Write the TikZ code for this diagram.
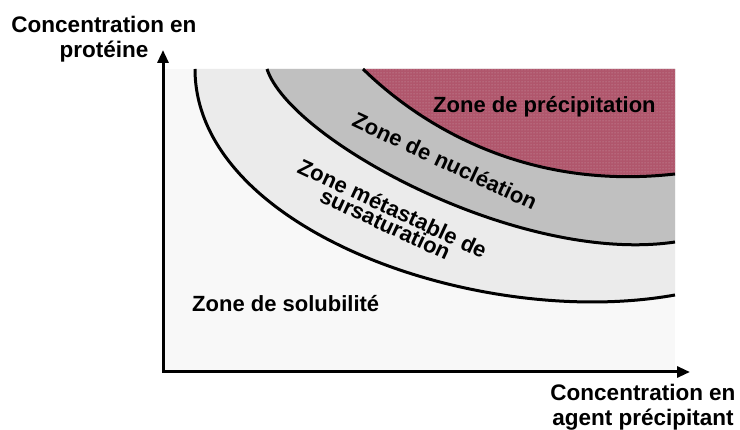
\documentclass[tikz,border=0pt]{standalone}
\usepackage{fontspec}
\setmainfont{Liberation Sans}
\usetikzlibrary{arrows.meta, patterns}

\definecolor{plotbg}{HTML}{F8F8F8}
\definecolor{metagray}{HTML}{EBEBEB}
\definecolor{nuclgray}{HTML}{C0C0C0}
\definecolor{precred}{HTML}{B0566C}
\definecolor{precdots}{HTML}{CDA3AD}

\begin{document}
\begin{tikzpicture}[
            x=1pt, y=-1pt,
            zonelabel/.style={
                    font=\bfseries\fontsize{22}{17}\selectfont,
                    align=center,
                    inner sep=0pt
                },
            axislabel/.style={
                    font=\bfseries\fontsize{22.5}{25}\selectfont,
                    align=center,
                    inner sep=0pt
                },
            boundary/.style={
                    draw=black,
                    line width=3pt
                },
            axis/.style={
                    draw=black,
                    line width=3pt,
                    {Triangle[length=13pt,width=11pt]}-{Triangle[length=13pt,width=11pt]}
                }
        ]
        \useasboundingbox (0,0) rectangle (740,430);

        % Plot area
        \fill [plotbg] (164,69) rectangle (675,372);

        % Zones
        \fill [metagray] (195,69) .. controls (195,230) and (480,330) .. (675,295) -- (675,69) -- cycle;
        \fill [nuclgray] (267,69) .. controls (290,140) and (520,265) .. (675,242) -- (675,69) -- cycle;
        \fill [precred] (363,69) .. controls (410,115) and (515,192) .. (675,174) -- (675,69) -- cycle;
        \fill [pattern=dots, pattern color=precdots] (363,69) .. controls (410,115) and (515,192) .. (675,174) -- (675,69) -- cycle;

        % Boundaries
        \draw [boundary] (195,69) .. controls (195,230) and (480,330) .. (675,295);
        \draw [boundary] (267,69) .. controls (290,140) and (520,265) .. (675,242);
        \draw [boundary] (363,69) .. controls (410,115) and (515,192) .. (675,174);

        % Axes
        \coordinate (origin) at (163,372);
        \coordinate (ytip) at (163,50);
        \coordinate (xtip) at (690,372);
        \draw [axis] (ytip) -- (origin) -- (xtip);

        % Labels
        \node [zonelabel, anchor=base west] (prec) at (433,113) {Zone de précipitation};
        \node [zonelabel, rotate=-25] (nucl) at (445,161) {Zone de nucléation};
        \node [zonelabel, rotate=-25] (meta) at (389,216) {Zone métastable de\\sursaturation};
        \node [zonelabel, anchor=base west] (solu) at (192,312) {Zone de solubilité};
        \node [axislabel] (ylabel) at (104,39) {Concentration en\\protéine};
        \node [axislabel] (xlabel) at (643,407) {Concentration en\\agent précipitant};
    \end{tikzpicture}
\end{document}
